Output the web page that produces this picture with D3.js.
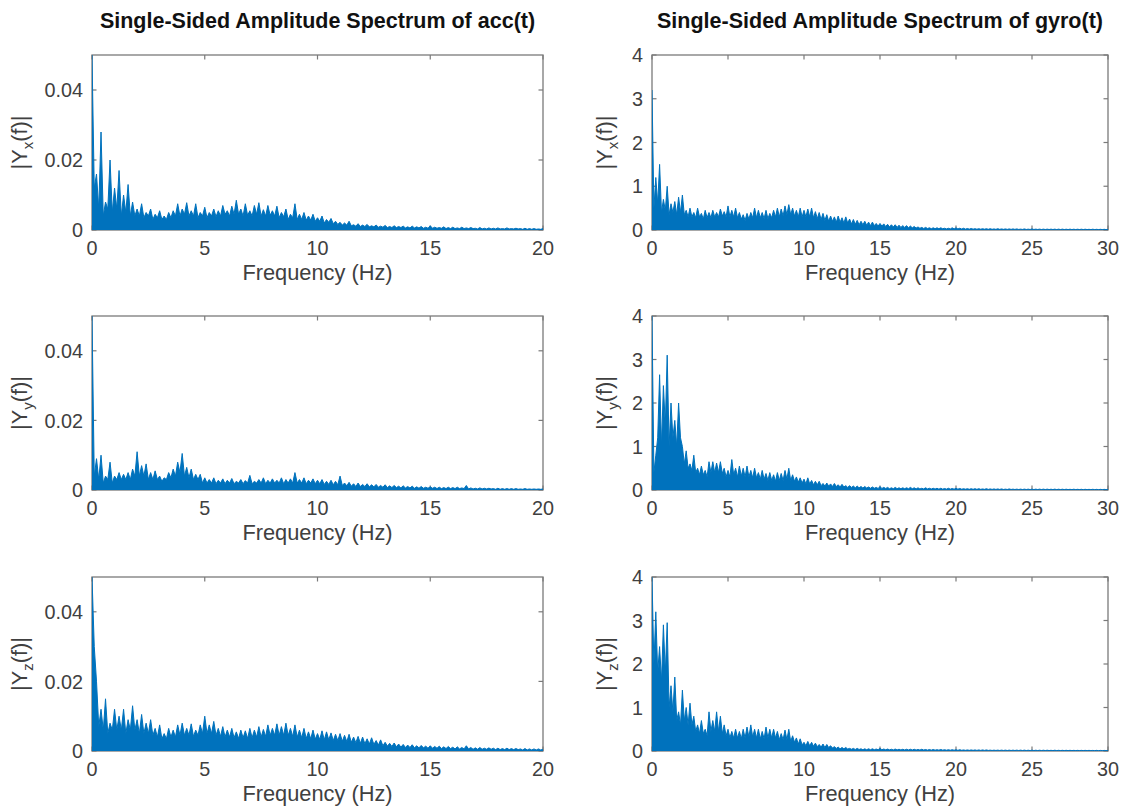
<!DOCTYPE html>
<html>
<head>
<meta charset="utf-8">
<script src="https://cdn.jsdelivr.net/npm/d3@7"></script>
<style>
  body { margin: 0; background: #fff; }
  svg { display: block; }
</style>
</head>
<body>
<div id="chart"></div>
<script>
// frequency grids (Hz) the spectra were read at: peaks on the grid, dips half a step between
const accFreq = d3.range(0, 20.0001, 0.2);
const accDipFreq = d3.range(0.1, 20, 0.2);
const gyroFreq = d3.range(0, 30.0001, 0.25);
const gyroDipFreq = d3.range(0.125, 30, 0.25);

// |Y(f)|, acc: peaks every 0.2 Hz
const accX = [
  0.050, 0.016, 0.028, 0.008, 0.020, 0.012, 0.017, 0.010, 0.013, 0.008,
  0.006, 0.0075, 0.005, 0.006, 0.0045, 0.0055, 0.004, 0.005, 0.0055, 0.0075,
  0.006, 0.0078, 0.0055, 0.0075, 0.005, 0.0065, 0.005, 0.006, 0.0055, 0.007,
  0.0055, 0.0068, 0.0085, 0.006, 0.0075, 0.0055, 0.007, 0.0078, 0.0058, 0.007,
  0.0055, 0.0068, 0.005, 0.006, 0.0045, 0.0075, 0.0045, 0.005, 0.004, 0.0045,
  0.0035, 0.004, 0.003, 0.0033, 0.0025, 0.0022, 0.002, 0.0025, 0.0015, 0.0018,
  0.0014, 0.0016, 0.0012, 0.0014, 0.0011, 0.0013, 0.001, 0.0012, 0.001, 0.0011,
  0.0009, 0.0011, 0.0009, 0.001, 0.0008, 0.0012, 0.0008, 0.0007, 0.0009, 0.0007,
  0.0008, 0.0006, 0.0008, 0.0006, 0.0007, 0.0005, 0.0007, 0.0005, 0.0006, 0.0005,
  0.0006, 0.0004, 0.0006, 0.0004, 0.0005, 0.0004, 0.0005, 0.0004, 0.0004, 0.0003,
  0.0004
];
const accXDip = [
  0.012, 0.006, 0.004, 0.006, 0.005, 0.006, 0.004, 0.005, 0.004, 0.004,
  0.004, 0.0035, 0.004, 0.003, 0.0035, 0.003, 0.003, 0.0035, 0.004, 0.004,
  0.0045, 0.004, 0.004, 0.0035, 0.004, 0.0035, 0.004, 0.0038, 0.004, 0.0045,
  0.004, 0.0045, 0.0045, 0.004, 0.0042, 0.004, 0.0045, 0.004, 0.004, 0.0042,
  0.004, 0.0035, 0.0038, 0.003, 0.0035, 0.003, 0.003, 0.0028, 0.0028, 0.0025,
  0.0025, 0.002, 0.0022, 0.0018, 0.0016, 0.0014, 0.0014, 0.0012, 0.0011, 0.001,
  0.001, 0.0009, 0.0009, 0.0008, 0.0008, 0.0007, 0.0007, 0.0007, 0.0007, 0.0006,
  0.0006, 0.0006, 0.0006, 0.0005, 0.0005, 0.0005, 0.0005, 0.0005, 0.0004, 0.0004,
  0.0004, 0.0004, 0.0004, 0.0004, 0.0004, 0.0003, 0.0003, 0.0003, 0.0003, 0.0003,
  0.0003, 0.0003, 0.0003, 0.0003, 0.0003, 0.0002, 0.0002, 0.0002, 0.0002, 0.0002
];
const accY = [
  0.050, 0.009, 0.010, 0.004, 0.008, 0.004, 0.005, 0.0045, 0.005, 0.006,
  0.011, 0.007, 0.0075, 0.005, 0.0055, 0.004, 0.0035, 0.005, 0.006, 0.008,
  0.0105, 0.0065, 0.006, 0.0045, 0.0045, 0.0035, 0.003, 0.0035, 0.0028, 0.0032,
  0.0028, 0.0033, 0.0025, 0.003, 0.0027, 0.0042, 0.0025, 0.003, 0.0035, 0.0028,
  0.0032, 0.0028, 0.0035, 0.003, 0.0032, 0.005, 0.003, 0.0035, 0.0028, 0.0032,
  0.0028, 0.003, 0.0025, 0.0028, 0.0025, 0.004, 0.002, 0.0022, 0.0018, 0.002,
  0.0016, 0.0018, 0.0015, 0.0016, 0.0013, 0.0015, 0.0012, 0.0013, 0.0011, 0.0012,
  0.001, 0.0011, 0.0009, 0.001, 0.0008, 0.0009, 0.0008, 0.0008, 0.0007, 0.0008,
  0.0007, 0.0008, 0.0006, 0.0013, 0.0006, 0.0005, 0.0006, 0.0005, 0.0005, 0.0004,
  0.0005, 0.0004, 0.0004, 0.0004, 0.0004, 0.0003, 0.0004, 0.0003, 0.0003, 0.0003,
  0.0003
];
const accYDip = [
  0.004, 0.003, 0.002, 0.003, 0.002, 0.003, 0.003, 0.003, 0.003, 0.004,
  0.004, 0.004, 0.003, 0.003, 0.003, 0.0025, 0.003, 0.0035, 0.004, 0.005,
  0.004, 0.0035, 0.003, 0.003, 0.002, 0.002, 0.002, 0.0018, 0.002, 0.0018,
  0.002, 0.0018, 0.002, 0.0018, 0.002, 0.0018, 0.002, 0.002, 0.0018, 0.002,
  0.002, 0.002, 0.0018, 0.002, 0.002, 0.002, 0.002, 0.0018, 0.002, 0.0018,
  0.0018, 0.0016, 0.0016, 0.0015, 0.0015, 0.0013, 0.0012, 0.0011, 0.001, 0.001,
  0.001, 0.0009, 0.0009, 0.0008, 0.0008, 0.0007, 0.0007, 0.0007, 0.0006, 0.0006,
  0.0006, 0.0005, 0.0005, 0.0005, 0.0005, 0.0005, 0.0004, 0.0004, 0.0004, 0.0004,
  0.0004, 0.0004, 0.0004, 0.0003, 0.0003, 0.0003, 0.0003, 0.0003, 0.0003, 0.0002,
  0.0002, 0.0002, 0.0002, 0.0002, 0.0002, 0.0002, 0.0002, 0.0002, 0.0002, 0.0002
];
const accZ = [
  0.050, 0.020, 0.012, 0.015, 0.008, 0.012, 0.010, 0.012, 0.009, 0.013,
  0.009, 0.0105, 0.008, 0.009, 0.0065, 0.0075, 0.005, 0.0065, 0.006, 0.0075,
  0.008, 0.0065, 0.0078, 0.006, 0.0075, 0.010, 0.0075, 0.0085, 0.0065, 0.007,
  0.006, 0.0065, 0.0055, 0.006, 0.0058, 0.0065, 0.006, 0.007, 0.0062, 0.0075,
  0.0065, 0.0078, 0.007, 0.008, 0.0065, 0.0075, 0.006, 0.0065, 0.0055, 0.006,
  0.005, 0.0058, 0.0055, 0.0052, 0.0048, 0.005, 0.0045, 0.0048, 0.004, 0.0042,
  0.004, 0.0035, 0.0038, 0.003, 0.0032, 0.0025, 0.0022, 0.0023, 0.002, 0.0019,
  0.0017, 0.0018, 0.0015, 0.0016, 0.0014, 0.0015, 0.0013, 0.0014, 0.0012, 0.0013,
  0.0011, 0.0012, 0.001, 0.0015, 0.001, 0.0009, 0.001, 0.0008, 0.0009, 0.0008,
  0.0008, 0.0007, 0.0008, 0.0007, 0.0007, 0.0006, 0.0007, 0.0006, 0.0006, 0.0006,
  0.0005
];
const accZDip = [
  0.030, 0.007, 0.006, 0.005, 0.006, 0.006, 0.006, 0.005, 0.006, 0.006,
  0.005, 0.005, 0.005, 0.0045, 0.004, 0.0035, 0.0035, 0.004, 0.004, 0.0045,
  0.0045, 0.0045, 0.0042, 0.0045, 0.005, 0.005, 0.005, 0.0045, 0.0042, 0.004,
  0.004, 0.0038, 0.0036, 0.0038, 0.0036, 0.0038, 0.004, 0.004, 0.0042, 0.0045,
  0.0045, 0.0045, 0.0045, 0.0045, 0.0042, 0.004, 0.0038, 0.0036, 0.0035, 0.0034,
  0.0033, 0.0032, 0.0032, 0.003, 0.003, 0.0028, 0.0027, 0.0025, 0.0024, 0.0022,
  0.0021, 0.002, 0.0019, 0.0017, 0.0015, 0.0014, 0.0013, 0.0012, 0.0011, 0.001,
  0.001, 0.0009, 0.0009, 0.0009, 0.0008, 0.0008, 0.0008, 0.0007, 0.0007, 0.0007,
  0.0006, 0.0006, 0.0006, 0.0006, 0.0005, 0.0005, 0.0005, 0.0005, 0.0005, 0.0004,
  0.0004, 0.0004, 0.0004, 0.0004, 0.0004, 0.0003, 0.0003, 0.0003, 0.0003, 0.0003
];

// gyro: peaks every 0.25 Hz
const gyroX = [
  3.2, 1.2, 1.5, 0.7, 1.0, 0.6, 0.65, 0.75,
  0.8, 0.45, 0.5, 0.4, 0.5, 0.38, 0.45, 0.4,
  0.45, 0.4, 0.48, 0.42, 0.55, 0.45, 0.5, 0.4,
  0.35, 0.38, 0.4, 0.5, 0.45, 0.4, 0.45, 0.38,
  0.45, 0.5, 0.48, 0.55, 0.58, 0.5, 0.45, 0.5,
  0.45, 0.48, 0.5, 0.42, 0.4, 0.38, 0.35, 0.32,
  0.3, 0.32, 0.28, 0.3, 0.25, 0.24, 0.22, 0.2,
  0.2, 0.18, 0.18, 0.15, 0.15, 0.14, 0.13, 0.12,
  0.12, 0.11, 0.1, 0.1, 0.09, 0.08, 0.07, 0.06,
  0.06, 0.05, 0.05, 0.05, 0.05, 0.04, 0.04, 0.05,
  0.05, 0.04, 0.04, 0.035, 0.035, 0.03, 0.03, 0.03,
  0.03, 0.03, 0.025, 0.03, 0.025, 0.025, 0.025, 0.025,
  0.025, 0.02, 0.025, 0.02, 0.025, 0.02, 0.02, 0.02,
  0.02, 0.02, 0.02, 0.02, 0.02, 0.018, 0.02, 0.018,
  0.018, 0.018, 0.018, 0.016, 0.018, 0.016, 0.016, 0.016,
  0.015
];
const gyroXDip = [
  0.5, 0.6, 0.4, 0.45, 0.35, 0.4, 0.35, 0.4,
  0.35, 0.3, 0.3, 0.28, 0.3, 0.25, 0.28, 0.28,
  0.3, 0.3, 0.32, 0.3, 0.3, 0.3, 0.28, 0.25,
  0.22, 0.25, 0.28, 0.28, 0.28, 0.26, 0.26, 0.28,
  0.3, 0.3, 0.32, 0.35, 0.35, 0.32, 0.3, 0.3,
  0.3, 0.3, 0.28, 0.26, 0.24, 0.22, 0.2, 0.2,
  0.18, 0.18, 0.16, 0.16, 0.14, 0.13, 0.12, 0.12,
  0.11, 0.1, 0.1, 0.09, 0.09, 0.08, 0.07, 0.07,
  0.06, 0.06, 0.06, 0.05, 0.05, 0.045, 0.04, 0.035,
  0.035, 0.03, 0.03, 0.03, 0.03, 0.025, 0.025, 0.025,
  0.025, 0.022, 0.02, 0.02, 0.02, 0.018, 0.018, 0.018,
  0.016, 0.016, 0.015, 0.015, 0.015, 0.014, 0.014, 0.014,
  0.013, 0.013, 0.012, 0.012, 0.012, 0.012, 0.011, 0.011,
  0.011, 0.011, 0.01, 0.01, 0.01, 0.01, 0.01, 0.01,
  0.01, 0.01, 0.01, 0.009, 0.009, 0.009, 0.009, 0.009
];
const gyroY = [
  4.0, 0.8, 2.65, 2.4, 3.1, 2.0, 1.6, 2.0,
  1.0, 0.9, 0.6, 0.8, 0.5, 0.55, 0.45, 0.65,
  0.65, 0.62, 0.65, 0.5, 0.45, 0.7, 0.5, 0.55,
  0.5, 0.55, 0.45, 0.5, 0.4, 0.45, 0.38, 0.4,
  0.35, 0.4, 0.38, 0.45, 0.5, 0.35, 0.3, 0.28,
  0.25, 0.28, 0.22, 0.2, 0.2, 0.15, 0.16, 0.14,
  0.15, 0.12, 0.13, 0.1, 0.1, 0.09, 0.09, 0.08,
  0.08, 0.07, 0.07, 0.06, 0.08, 0.06, 0.06, 0.05,
  0.06, 0.05, 0.05, 0.05, 0.06, 0.05, 0.05, 0.04,
  0.05, 0.04, 0.04, 0.04, 0.04, 0.035, 0.04, 0.035,
  0.04, 0.035, 0.03, 0.03, 0.03, 0.03, 0.03, 0.025,
  0.03, 0.025, 0.025, 0.025, 0.025, 0.02, 0.025, 0.02,
  0.02, 0.02, 0.02, 0.02, 0.02, 0.02, 0.02, 0.02,
  0.02, 0.018, 0.02, 0.018, 0.018, 0.018, 0.016, 0.018,
  0.016, 0.016, 0.016, 0.015, 0.016, 0.015, 0.015, 0.015,
  0.015
];
const gyroYDip = [
  0.4, 1.2, 1.0, 1.5, 1.0, 1.2, 1.0, 1.2,
  0.6, 0.5, 0.45, 0.4, 0.35, 0.35, 0.3, 0.4,
  0.4, 0.4, 0.38, 0.3, 0.3, 0.35, 0.3, 0.32,
  0.3, 0.3, 0.28, 0.28, 0.25, 0.25, 0.22, 0.22,
  0.2, 0.22, 0.22, 0.25, 0.22, 0.2, 0.18, 0.16,
  0.14, 0.14, 0.12, 0.12, 0.1, 0.09, 0.09, 0.08,
  0.08, 0.07, 0.07, 0.06, 0.06, 0.05, 0.05, 0.045,
  0.045, 0.04, 0.04, 0.035, 0.035, 0.035, 0.03, 0.03,
  0.03, 0.03, 0.03, 0.03, 0.03, 0.025, 0.025, 0.025,
  0.025, 0.022, 0.022, 0.02, 0.02, 0.02, 0.02, 0.02,
  0.02, 0.018, 0.018, 0.016, 0.016, 0.015, 0.015, 0.015,
  0.014, 0.014, 0.013, 0.013, 0.012, 0.012, 0.012, 0.011,
  0.011, 0.011, 0.011, 0.01, 0.01, 0.01, 0.01, 0.01,
  0.01, 0.01, 0.009, 0.009, 0.009, 0.009, 0.009, 0.009,
  0.009, 0.008, 0.008, 0.008, 0.008, 0.008, 0.008, 0.008
];
const gyroZ = [
  4.0, 3.2, 2.4, 2.9, 2.95, 1.5, 1.7, 0.9,
  1.4, 1.0, 1.1, 0.8, 0.6, 0.7, 0.5, 0.9,
  0.7, 0.9, 0.8, 0.6, 0.5, 0.45, 0.5, 0.45,
  0.5, 0.55, 0.6, 0.5, 0.5, 0.45, 0.55, 0.5,
  0.5, 0.45, 0.4, 0.48, 0.5, 0.35, 0.3, 0.28,
  0.2, 0.22, 0.2, 0.18, 0.15, 0.16, 0.15, 0.12,
  0.1, 0.09, 0.08, 0.08, 0.06, 0.06, 0.06, 0.05,
  0.05, 0.05, 0.05, 0.045, 0.06, 0.045, 0.045, 0.04,
  0.045, 0.04, 0.04, 0.04, 0.04, 0.04, 0.035, 0.04,
  0.035, 0.035, 0.035, 0.03, 0.035, 0.03, 0.03, 0.03,
  0.03, 0.03, 0.025, 0.025, 0.025, 0.025, 0.025, 0.025,
  0.025, 0.02, 0.02, 0.02, 0.02, 0.02, 0.02, 0.02,
  0.02, 0.02, 0.02, 0.018, 0.02, 0.018, 0.018, 0.018,
  0.018, 0.016, 0.018, 0.016, 0.016, 0.016, 0.016, 0.015,
  0.015, 0.015, 0.015, 0.015, 0.014, 0.015, 0.014, 0.014,
  0.014
];
const gyroZDip = [
  2.0, 1.8, 1.6, 1.8, 1.0, 0.9, 0.7, 0.6,
  0.7, 0.6, 0.6, 0.45, 0.4, 0.4, 0.35, 0.45,
  0.45, 0.45, 0.4, 0.35, 0.3, 0.3, 0.3, 0.28,
  0.3, 0.32, 0.32, 0.3, 0.28, 0.28, 0.3, 0.3,
  0.3, 0.26, 0.26, 0.26, 0.22, 0.2, 0.16, 0.14,
  0.12, 0.12, 0.11, 0.1, 0.09, 0.08, 0.08, 0.07,
  0.06, 0.05, 0.05, 0.045, 0.04, 0.035, 0.035, 0.03,
  0.03, 0.03, 0.03, 0.03, 0.03, 0.028, 0.026, 0.025,
  0.025, 0.025, 0.024, 0.024, 0.023, 0.022, 0.022, 0.022,
  0.02, 0.02, 0.02, 0.02, 0.02, 0.018, 0.018, 0.018,
  0.016, 0.016, 0.015, 0.015, 0.015, 0.014, 0.014, 0.014,
  0.013, 0.012, 0.012, 0.012, 0.012, 0.011, 0.011, 0.011,
  0.011, 0.011, 0.01, 0.01, 0.01, 0.01, 0.01, 0.01,
  0.01, 0.009, 0.009, 0.009, 0.009, 0.009, 0.009, 0.009,
  0.009, 0.009, 0.008, 0.008, 0.008, 0.008, 0.008, 0.008
];

const accXTicks = [0, 5, 10, 15, 20];
const gyroXTicks = [0, 5, 10, 15, 20, 25, 30];
const accYTicks = [0, 0.02, 0.04];
const gyroYTicks = [0, 1, 2, 3, 4];
const titles = ["Single-Sided Amplitude Spectrum of acc(t)", "Single-Sided Amplitude Spectrum of gyro(t)"];
const axesNames = ["x", "y", "z"];

const W = 1129, H = 812;
const blue = "#0072BD";
const boxColor = "#7a7a7a";
const textColor = "#404040";
const font = "'Liberation Sans', Arial, Helvetica, sans-serif";

const cols = [
  { x0: 92, x1: 543, freq: accFreq, dipFreq: accDipFreq, xMax: 20, yMax: 0.05,
    xTicks: accXTicks, yTicks: accYTicks,
    series: [[accX, accXDip], [accY, accYDip], [accZ, accZDip]], ylabX: 27,
    fmt: d => d === 0 ? "0" : d3.format(".2f")(d) },
  { x0: 652, x1: 1108, freq: gyroFreq, dipFreq: gyroDipFreq, xMax: 30, yMax: 4,
    xTicks: gyroXTicks, yTicks: gyroYTicks,
    series: [[gyroX, gyroXDip], [gyroY, gyroYDip], [gyroZ, gyroZDip]], ylabX: 612,
    fmt: d3.format("d") }
];
const rows = [{ y0: 55, y1: 230 }, { y0: 316, y1: 490 }, { y0: 577, y1: 751 }];

const svg = d3.select("#chart").append("svg")
  .attr("width", W).attr("height", H)
  .style("font-family", font);

svg.append("rect").attr("width", W).attr("height", H).attr("fill", "#fff");

const tickLen = 4.5;

cols.forEach((c, ci) => {
  // column title
  svg.append("text")
    .attr("x", (c.x0 + c.x1) / 2)
    .attr("y", 28)
    .attr("text-anchor", "middle")
    .style("font-size", "21.5px")
    .style("font-weight", "bold")
    .attr("fill", "#111")
    .text(titles[ci]);

  rows.forEach((r, ri) => {
    const x = d3.scaleLinear().domain([0, c.xMax]).range([c.x0, c.x1]);
    const y = d3.scaleLinear().domain([0, c.yMax]).range([r.y1, r.y0]);
    const [peaks, dips] = c.series[ri];
    const pts = c.freq.map((f, i) => ({ f: f, v: peaks[i] }))
      .concat(c.dipFreq.map((f, i) => ({ f: f, v: dips[i] })))
      .filter(d => d.v !== undefined)
      .sort((a, b) => a.f - b.f);

    const g = svg.append("g");
    const clipId = `clip-${ci}-${ri}`;
    svg.append("clipPath").attr("id", clipId)
      .append("rect")
      .attr("x", c.x0).attr("y", r.y0)
      .attr("width", c.x1 - c.x0).attr("height", r.y1 - r.y0);

    // axes box
    g.append("rect")
      .attr("x", c.x0).attr("y", r.y0)
      .attr("width", c.x1 - c.x0).attr("height", r.y1 - r.y0)
      .attr("fill", "none")
      .attr("stroke", boxColor)
      .attr("stroke-width", 1.3);

    // inward ticks on all four sides
    c.xTicks.forEach(t => {
      g.append("line").attr("x1", x(t)).attr("x2", x(t))
        .attr("y1", r.y1).attr("y2", r.y1 - tickLen)
        .attr("stroke", boxColor).attr("stroke-width", 1.2);
      g.append("line").attr("x1", x(t)).attr("x2", x(t))
        .attr("y1", r.y0).attr("y2", r.y0 + tickLen)
        .attr("stroke", boxColor).attr("stroke-width", 1.2);
      g.append("text")
        .attr("x", x(t)).attr("y", r.y1 + 25)
        .attr("text-anchor", "middle")
        .style("font-size", "19.8px")
        .attr("fill", textColor)
        .text(t);
    });
    c.yTicks.forEach(t => {
      g.append("line").attr("x1", c.x0).attr("x2", c.x0 + tickLen)
        .attr("y1", y(t)).attr("y2", y(t))
        .attr("stroke", boxColor).attr("stroke-width", 1.2);
      g.append("line").attr("x1", c.x1).attr("x2", c.x1 - tickLen)
        .attr("y1", y(t)).attr("y2", y(t))
        .attr("stroke", boxColor).attr("stroke-width", 1.2);
      g.append("text")
        .attr("x", c.x0 - 9).attr("y", y(t))
        .attr("dy", "0.36em")
        .attr("text-anchor", "end")
        .style("font-size", "19.8px")
        .attr("fill", textColor)
        .text(c.fmt(t));
    });

    // spectrum: filled envelope plus the trace itself
    const area = d3.area()
      .x(d => x(d.f))
      .y0(y(0))
      .y1(d => y(d.v));
    const line = d3.line()
      .x(d => x(d.f))
      .y(d => y(d.v));

    const data = g.append("g").attr("clip-path", `url(#${clipId})`);
    data.append("path")
      .datum(pts)
      .attr("d", area)
      .attr("fill", blue);
    data.append("path")
      .datum(pts)
      .attr("d", line)
      .attr("fill", "none")
      .attr("stroke", blue)
      .attr("stroke-width", 1);

    // x label
    g.append("text")
      .attr("x", (c.x0 + c.x1) / 2)
      .attr("y", r.y1 + 50)
      .attr("text-anchor", "middle")
      .style("font-size", "21.8px")
      .attr("fill", textColor)
      .text("Frequency (Hz)");

    // y label |Y_x(f)|
    const yl = g.append("text")
      .attr("transform", `translate(${c.ylabX},${(r.y0 + r.y1) / 2}) rotate(-90)`)
      .attr("text-anchor", "middle")
      .style("font-size", "21.8px")
      .attr("fill", textColor);
    yl.append("tspan").text("|Y");
    yl.append("tspan").attr("dy", 6).style("font-size", "15px").text(axesNames[ri]);
    yl.append("tspan").attr("dy", -6).text("(f)|");
  });
});
</script>
</body>
</html>
